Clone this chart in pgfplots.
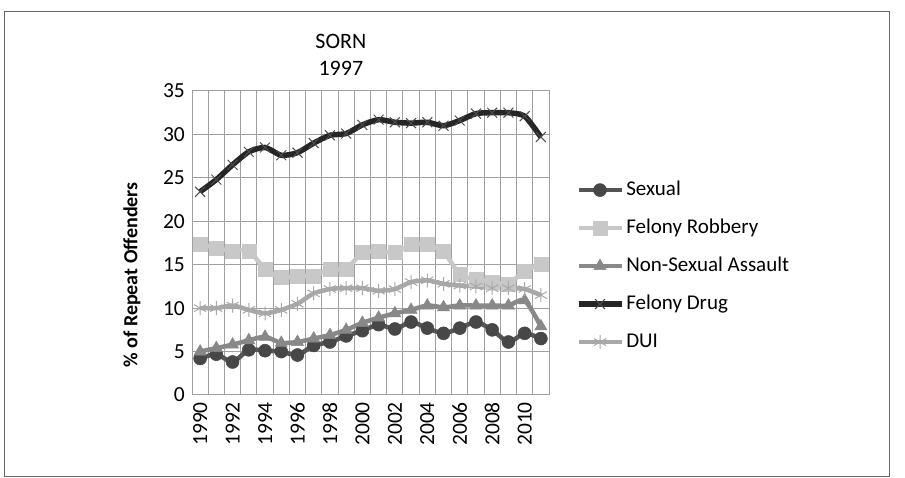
\documentclass[border=0pt]{standalone}
\usepackage{fontspec}
\setmainfont{Carlito}
\usepackage{pgfplots}
\pgfplotsset{compat=1.18}
\definecolor{cSex}{HTML}{555555}
\definecolor{cRob}{HTML}{C8C8C8}
\definecolor{cAss}{HTML}{888888}
\definecolor{cDrug}{HTML}{262626}
\definecolor{cDui}{HTML}{A8A8A8}
\definecolor{cGrid}{HTML}{A0A0A0}
\begin{document}
\fontsize{21bp}{25bp}\selectfont
\begin{tikzpicture}[x=1bp,y=1bp]
\useasboundingbox (0,0) rectangle (905,478);
\draw[color=black!60, line width=1bp] (4.5,1.5) rectangle (889,466);
\begin{axis}[
  at={(192bp,83bp)}, anchor=south west,
  width=357bp, height=304bp, scale only axis,
  xmin=-0.5, xmax=21.5, ymin=0, ymax=35,
  ytick={0,5,...,35},
  xtick={0,2,...,20},
  xticklabels={1990,1992,1994,1996,1998,2000,2002,2004,2006,2008,2010},
  minor xtick={-0.5,0.5,...,21.5},
  xminorgrids=true, ymajorgrids=true,
  minor grid style={cGrid, line width=1bp},
  major grid style={cGrid, line width=1bp},
  axis line style={cGrid, line width=1bp},
  major tick length=0pt, minor tick length=0pt,
  tick style={draw=none},
  /pgf/number format/assume math mode=true,
  ticklabel style={font=\fontsize{21.5bp}{25bp}\selectfont},
  xticklabel style={rotate=90, anchor=east, xshift=0bp, yshift=0bp},
  yticklabel style={anchor=east},
  title={SORN\\[-1bp]1997},
  title style={at={(axis description cs:0.417,1.10)}, anchor=center, align=center, font=\fontsize{22bp}{28bp}\selectfont},
  ylabel={\% of Repeat Offenders},
  ylabel style={at={(axis description cs:-0.168,0.395)}, anchor=center, font=\fontsize{20bp}{24bp}\selectfont\bfseries},
  legend cell align=left,
  legend style={draw=none, fill=none, at={(1.066,0.424)}, anchor=west,
    nodes={inner sep=0pt, text height=15bp, text depth=5bp},
    row sep=18bp, column sep=2bp, font=\fontsize{21bp}{25bp}\selectfont},
  legend image code/.code={\draw[#1, mark repeat=2, mark phase=2] plot coordinates {(0bp,0bp) (21.5bp,0bp) (43bp,0bp)};},
]
\addplot[cSex, line width=4.5bp, smooth, tension=0.4, mark=*, mark size=6.5bp, mark options={solid, fill=black!72, draw=black!72, line width=0.5bp}]
coordinates {(0,4.2)(1,4.7)(2,3.8)(3,5.2)(4,5.1)(5,5.0)(6,4.6)(7,5.7)(8,6.1)(9,6.8)(10,7.4)(11,8.1)(12,7.6)(13,8.4)(14,7.7)(15,7.1)(16,7.7)(17,8.4)(18,7.5)(19,6.1)(20,7.1)(21,6.5)};
\addlegendentry{Sexual}
\addplot[cRob, line width=4.5bp, smooth, tension=0.4, mark=square*, mark size=7bp, mark options={solid, fill=cRob, draw=cRob, line width=0.5bp}]
coordinates {(0,17.4)(1,16.9)(2,16.6)(3,16.6)(4,14.5)(5,13.5)(6,13.7)(7,13.7)(8,14.5)(9,14.5)(10,16.4)(11,16.5)(12,16.4)(13,17.3)(14,17.3)(15,16.5)(16,13.9)(17,13.3)(18,13.0)(19,12.8)(20,14.3)(21,15.1)};
\addlegendentry{Felony Robbery}
\addplot[cAss, line width=4.5bp, smooth, tension=0.4, mark=triangle*, mark size=7bp, mark options={solid, fill=cAss, draw=cAss, line width=0.5bp}]
coordinates {(0,5.0)(1,5.4)(2,5.8)(3,6.3)(4,6.7)(5,6.0)(6,6.1)(7,6.5)(8,6.9)(9,7.5)(10,8.3)(11,8.9)(12,9.4)(13,9.8)(14,10.3)(15,10.1)(16,10.3)(17,10.3)(18,10.3)(19,10.3)(20,10.9)(21,7.9)};
\addlegendentry{Non-Sexual Assault}
\addplot[cDrug, line width=5.5bp, smooth, tension=0.4, mark=x, mark size=7bp, mark options={solid, draw=black!70, line width=1bp}]
coordinates {(0,23.4)(1,24.8)(2,26.5)(3,28.0)(4,28.5)(5,27.6)(6,27.9)(7,29.0)(8,29.9)(9,30.1)(10,31.1)(11,31.7)(12,31.4)(13,31.3)(14,31.4)(15,31.0)(16,31.6)(17,32.4)(18,32.5)(19,32.5)(20,32.1)(21,29.7)};
\addlegendentry{Felony Drug}
\addplot[cDui, line width=4.5bp, smooth, tension=0.4, mark=asterisk, mark size=7bp, mark options={solid, draw=cDui, line width=1bp}]
coordinates {(0,10.0)(1,10.0)(2,10.3)(3,9.8)(4,9.4)(5,9.8)(6,10.5)(7,11.7)(8,12.2)(9,12.3)(10,12.3)(11,12.0)(12,12.2)(13,13.0)(14,13.2)(15,12.8)(16,12.6)(17,12.5)(18,12.3)(19,12.3)(20,12.2)(21,11.5)};
\addlegendentry{DUI}
\end{axis}
\end{tikzpicture}
\end{document}
